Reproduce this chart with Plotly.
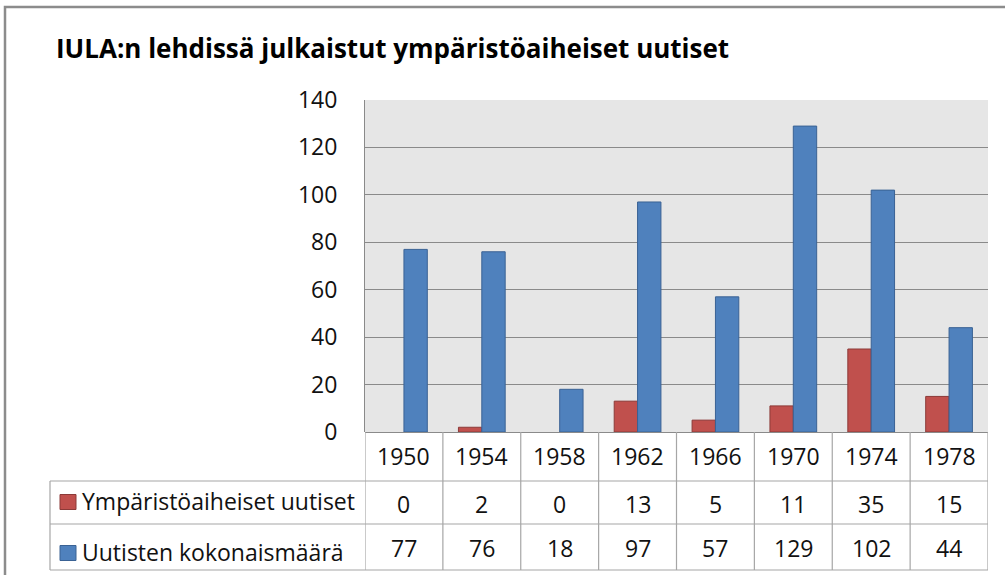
import plotly.graph_objects as go

years = ["1950", "1954", "1958", "1962", "1966", "1970", "1974", "1978"]
env_news = [0, 2, 0, 13, 5, 11, 35, 15]
total_news = [77, 76, 18, 97, 57, 129, 102, 44]
series_names = ["Ympäristöaiheiset uutiset", "Uutisten kokonaismäärä"]
title_text = "IULA:n lehdissä julkaistut ympäristöaiheiset uutiset"

W, H = 1005, 575
RED, RED_EDGE = "#C0504D", "#8C3A38"
BLUE, BLUE_EDGE = "#4F81BD", "#3A6294"
FONT = "Open Sans"
GRID = "#8A8A8A"
TLINE = "#A6A6A6"


def px(x):
    return x / W


def py(y):
    return 1 - y / H


PLOT_L, PLOT_R, PLOT_T, PLOT_B = 365, 988, 100, 432
ROW1_B, ROW2_B, ROW3_B = 481, 524, 570
TABLE_L = 50

fig = go.Figure()
for vals, name, col, edge in [(env_news, series_names[0], RED, RED_EDGE),
                              (total_news, series_names[1], BLUE, BLUE_EDGE)]:
    fig.add_trace(go.Bar(x=years, y=vals, name=name,
                         marker=dict(color=col,
                                     line=dict(color=edge,
                                               width=[1 if v > 0 else 0 for v in vals]))))

shapes = []
shapes.append(dict(type="rect", xref="paper", yref="paper",
                   x0=px(5), x1=px(1015), y0=py(590), y1=py(7),
                   line=dict(color="#8C8C8C", width=2.5)))
for yy in [ROW1_B, ROW2_B, ROW3_B]:
    shapes.append(dict(type="line", xref="paper", yref="paper",
                       x0=px(TABLE_L), x1=px(PLOT_R), y0=py(yy), y1=py(yy),
                       line=dict(color=TLINE, width=1.2)))
shapes.append(dict(type="line", xref="paper", yref="paper",
                   x0=px(TABLE_L), x1=px(TABLE_L), y0=py(ROW1_B), y1=py(ROW3_B),
                   line=dict(color=TLINE, width=1.2)))
for i in range(len(years) + 1):
    shapes.append(dict(type="line", xref="x", yref="paper",
                       x0=i - 0.5, x1=i - 0.5, y0=py(PLOT_B), y1=py(ROW3_B),
                       line=dict(color=TLINE, width=1.2)))
for (yc, col, edge) in [(502, RED, RED_EDGE), (553, BLUE, BLUE_EDGE)]:
    shapes.append(dict(type="rect", xref="paper", yref="paper",
                       x0=px(60), x1=px(76), y0=py(yc + 7.5), y1=py(yc - 7.5),
                       fillcolor=col, line=dict(color=edge, width=1)))

TXT = dict(family=FONT, size=23, color="#111111")
annotations = [dict(text=title_text, xref="paper", yref="paper",
                    x=px(54), y=py(48), xanchor="left", yanchor="middle",
                    showarrow=False,
                    font=dict(family=FONT, size=26, color="#000000", weight="bold"))]
for name, yc in zip(series_names, [501, 552]):
    annotations.append(dict(text=name, xref="paper", yref="paper",
                            x=px(80), y=py(yc), xanchor="left", yanchor="middle",
                            showarrow=False, font=TXT))
for i, yr in enumerate(years):
    for val, yc in [(yr, 456), (str(env_news[i]), 504), (str(total_news[i]), 548)]:
        annotations.append(dict(text=val, xref="x", yref="paper", x=i, y=py(yc),
                                xanchor="center", yanchor="middle", showarrow=False,
                                font=TXT))

fig.update_layout(
    width=W, height=H,
    autosize=False,
    margin=dict(l=0, r=0, t=0, b=0, pad=0, autoexpand=False),
    paper_bgcolor="white",
    plot_bgcolor="#E6E6E6",
    showlegend=False,
    barmode="group",
    bargap=0.4,
    bargroupgap=0,
    shapes=shapes,
    annotations=annotations,
    xaxis=dict(type="category", domain=[px(PLOT_L), px(PLOT_R)], showticklabels=False,
               showgrid=False, zeroline=False, showline=False, automargin=False,
               range=[-0.5, len(years) - 0.5], fixedrange=True),
    yaxis=dict(domain=[py(PLOT_B), py(PLOT_T)], range=[0, 140], dtick=20,
               showgrid=True, gridcolor=GRID, gridwidth=1, automargin=False,
               zeroline=True, zerolinecolor=GRID, zerolinewidth=1,
               showline=True, linecolor=GRID, linewidth=1,
               ticks="", ticklabelstandoff=22,
               tickfont=TXT,
               fixedrange=True),
)

fig.write_html("out.html", config={"displayModeBar": False},
               post_script="document.body.style.margin='0';document.body.style.overflow='hidden';")
